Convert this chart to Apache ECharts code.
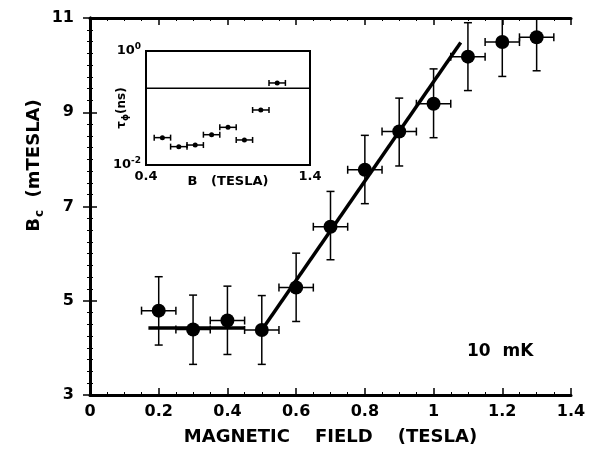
<!DOCTYPE html>
<html>
<head>
<meta charset="UTF-8">
<title>Bc vs magnetic field</title>
<script src="https://cdn.jsdelivr.net/npm/echarts@6/dist/echarts.min.js"></script>
<style>
  html, body { margin: 0; padding: 0; background: #fff; }
  #chart { width: 589px; height: 464px; }
</style>
</head>
<body>
<div id="chart"></div>
<script>
// main data: Bc (mT) vs field (T), with error bars
var fieldB   = [0.2, 0.3, 0.4, 0.5, 0.6, 0.7, 0.8, 0.9, 1.0, 1.1, 1.2, 1.3];
var fieldErr = [0.05, 0.05, 0.05, 0.05, 0.05, 0.05, 0.05, 0.05, 0.05, 0.05, 0.05, 0.05];
var bcVal    = [4.79, 4.39, 4.58, 4.38, 5.28, 6.57, 7.78, 8.59, 9.18, 10.18, 10.49, 10.59];
var bcLow    = [4.06, 3.65, 3.86, 3.65, 4.56, 5.87, 7.06, 7.86, 8.46, 9.46, 9.76, 9.88];
var bcHigh   = [5.51, 5.12, 5.31, 5.11, 6.01, 7.32, 8.51, 9.30, 9.92, 10.9, 11.2, 11.3];

// fitted lines
var flatFitB  = [0.17, 0.45];
var flatFitBc = [4.42, 4.42];
var slopeFitB  = [0.5, 1.079];
var slopeFitBc = [4.38, 10.48];

// inset: tau_phi (ns) vs B
var insetB    = [0.5, 0.6, 0.7, 0.8, 0.9, 1.0, 1.1, 1.2];
var insetBErr = [0.05, 0.05, 0.05, 0.05, 0.05, 0.05, 0.05, 0.05];
var insetTau  = [0.0302, 0.0210, 0.0224, 0.0340, 0.0458, 0.0275, 0.0923, 0.275];
var insetLineB   = [0.4, 1.4];
var insetLineTau = [0.221, 0.221];

var FONT = '"DejaVu Sans", Verdana, sans-serif';

function zip(a, b) {
    return a.map(function (v, i) { return [v, b[i]]; });
}

// draws x and y error bars with caps
function errorBars(api) {
    var x = api.value(0), y = api.value(1);
    var xl = api.value(2), xh = api.value(3);
    var yl = api.value(4), yh = api.value(5);
    var cap = api.value(6);
    var c = api.coord([x, y]);
    var pl = api.coord([xl, y]), ph = api.coord([xh, y]);
    var children = [];
    var st = { stroke: '#000', lineWidth: 1.5 };
    children.push({ type: 'line', shape: { x1: pl[0], y1: c[1], x2: ph[0], y2: c[1] }, style: st });
    children.push({ type: 'line', shape: { x1: pl[0], y1: c[1] - cap, x2: pl[0], y2: c[1] + cap }, style: st });
    children.push({ type: 'line', shape: { x1: ph[0], y1: c[1] - cap, x2: ph[0], y2: c[1] + cap }, style: st });
    if (yl !== null && yl !== undefined && !isNaN(yl)) {
        var vl = api.coord([x, yl]), vh = api.coord([x, yh]);
        children.push({ type: 'line', shape: { x1: c[0], y1: vl[1], x2: c[0], y2: vh[1] }, style: st });
        children.push({ type: 'line', shape: { x1: c[0] - cap, y1: vl[1], x2: c[0] + cap, y2: vl[1] }, style: st });
        children.push({ type: 'line', shape: { x1: c[0] - cap, y1: vh[1], x2: c[0] + cap, y2: vh[1] }, style: st });
    }
    return { type: 'group', children: children };
}

var mainErrData = fieldB.map(function (b, i) {
    return [b, bcVal[i], b - fieldErr[i], b + fieldErr[i], bcLow[i], bcHigh[i], 4];
});
var insetErrData = insetB.map(function (b, i) {
    return [b, insetTau[i], b - insetBErr[i], b + insetBErr[i], NaN, NaN, 3];
});

var tickLabel = { color: '#000', fontFamily: FONT, fontWeight: 'bold', fontSize: 16 };

var chart = echarts.init(document.getElementById('chart'));
chart.setOption({
    animation: false,
    backgroundColor: '#fff',
    grid: [
        { left: 90, top: 18, right: 18, bottom: 69 },
        { left: 146, top: 51, width: 164, height: 114, show: true, borderColor: '#000', borderWidth: 2, backgroundColor: '#fff', z: 5 }
    ],
    xAxis: [
        {
            gridIndex: 0, type: 'value', min: 0, max: 1.4, interval: 0.2,
            axisLine: { lineStyle: { color: '#000', width: 3 } },
            axisTick: { inside: true, length: 7, lineStyle: { color: '#000', width: 1.5 } },
            minorTick: { show: true, splitNumber: 4, length: 3, lineStyle: { color: '#000', width: 1 } },
            splitLine: { show: false },
            axisLabel: Object.assign({ margin: 9, formatter: function (v) { return String(+v.toFixed(1)); } }, tickLabel),
            name: 'MAGNETIC    FIELD    (TESLA)', nameLocation: 'middle', nameGap: 33, nameMoveOverlap: false,
            nameTextStyle: { color: '#000', fontFamily: FONT, fontWeight: 'bold', fontSize: 18 }
        },
        {
            gridIndex: 0, type: 'value', position: 'top', min: 0, max: 1.4, interval: 0.2,
            axisLine: { lineStyle: { color: '#000', width: 3 } },
            axisTick: { inside: true, length: 7, lineStyle: { color: '#000', width: 1.5 } },
            minorTick: { show: true, splitNumber: 4, length: 3, lineStyle: { color: '#000', width: 1 } },
            splitLine: { show: false }, axisLabel: { show: false }
        },
        {
            gridIndex: 1, type: 'value', min: 0.4, max: 1.4, interval: 0.1,
            axisLine: { lineStyle: { color: '#000', width: 2 } },
            axisTick: { inside: true, length: 4, lineStyle: { color: '#000', width: 1 } },
            splitLine: { show: false },
            axisLabel: {
                color: '#000', fontFamily: FONT, fontWeight: 'bold', fontSize: 13, margin: 5,
                formatter: function (v) {
                    if (Math.abs(v - 0.4) < 1e-6) return '0.4';
                    if (Math.abs(v - 1.4) < 1e-6) return '1.4';
                    return '';
                }
            },
            name: 'B   (TESLA)', nameLocation: 'middle', nameGap: 10, nameMoveOverlap: false,
            nameTextStyle: { color: '#000', fontFamily: FONT, fontWeight: 'bold', fontSize: 13 }
        },
        {
            gridIndex: 1, type: 'value', position: 'top', min: 0.4, max: 1.4, interval: 0.1,
            axisLine: { lineStyle: { color: '#000', width: 2 } },
            axisTick: { inside: true, length: 4, lineStyle: { color: '#000', width: 1 } },
            splitLine: { show: false }, axisLabel: { show: false }
        }
    ],
    yAxis: [
        {
            gridIndex: 0, type: 'value', min: 3, max: 11, interval: 2,
            axisLine: { lineStyle: { color: '#000', width: 3 } },
            axisTick: { inside: true, length: 7, lineStyle: { color: '#000', width: 1.5 } },
            minorTick: { show: true, splitNumber: 8, length: 3, lineStyle: { color: '#000', width: 1 } },
            splitLine: { show: false },
            axisLabel: Object.assign({ margin: 16 }, tickLabel),
            name: '{b|B}{s|c}{b|  (mTESLA)}', nameLocation: 'middle', nameGap: 44, nameRotate: 90, nameMoveOverlap: false,
            nameTextStyle: {
                color: '#000',
                padding: [0, 0, 0, 82],
                rich: {
                    b: { fontFamily: FONT, fontWeight: 'bold', fontSize: 18, color: '#000' },
                    s: { fontFamily: FONT, fontWeight: 'bold', fontSize: 12, color: '#000', verticalAlign: 'bottom', padding: [12, 0, 0, 1] }
                }
            }
        },
        {
            gridIndex: 0, type: 'value', position: 'right', min: 3, max: 11, interval: 2,
            axisLine: { lineStyle: { color: '#000', width: 3 } },
            axisTick: { inside: true, length: 7, lineStyle: { color: '#000', width: 1.5 } },
            minorTick: { show: true, splitNumber: 8, length: 3, lineStyle: { color: '#000', width: 1 } },
            splitLine: { show: false }, axisLabel: { show: false }
        },
        {
            gridIndex: 1, type: 'log', logBase: 10, min: 0.01, max: 1,
            axisLine: { lineStyle: { color: '#000', width: 2 } },
            axisTick: { inside: true, length: 4, lineStyle: { color: '#000', width: 1 } },
            splitLine: { show: false },
            axisLabel: {
                margin: 5,
                formatter: function (v) {
                    if (Math.abs(v - 1) < 1e-9) return '{b|10}{s|0}';
                    if (Math.abs(v - 0.01) < 1e-9) return '{b|10}{s|-2}';
                    return '';
                },
                rich: {
                    b: { fontFamily: FONT, fontWeight: 'bold', fontSize: 13, color: '#000' },
                    s: { fontFamily: FONT, fontWeight: 'bold', fontSize: 9, color: '#000', verticalAlign: 'top', padding: [0, 0, 8, 0] }
                }
            },
            name: '{b|τ}{s|ϕ}{b|(ns)}', nameLocation: 'middle', nameGap: 16, nameRotate: 90, nameMoveOverlap: false,
            nameTextStyle: {
                rich: {
                    b: { fontFamily: FONT, fontWeight: 'bold', fontSize: 12, color: '#000' },
                    s: { fontFamily: FONT, fontWeight: 'bold', fontSize: 9, color: '#000', padding: [8, 0, 0, 0] }
                }
            }
        }
    ],
    graphic: [{
        type: 'text', left: 467, top: 343,
        style: { text: '10  mK', fill: '#000', font: 'bold 17px ' + FONT }
    }],
    series: [
        {
            type: 'custom', xAxisIndex: 0, yAxisIndex: 0, clip: true,
            renderItem: function (params, api) { return errorBars(api); },
            data: mainErrData, z: 2
        },
        {
            type: 'line', xAxisIndex: 0, yAxisIndex: 0, symbol: 'none',
            lineStyle: { color: '#000', width: 3.5 }, data: zip(flatFitB, flatFitBc), z: 3
        },
        {
            type: 'line', xAxisIndex: 0, yAxisIndex: 0, symbol: 'none',
            lineStyle: { color: '#000', width: 3.5 }, data: zip(slopeFitB, slopeFitBc), z: 3
        },
        {
            type: 'scatter', xAxisIndex: 0, yAxisIndex: 0, symbol: 'circle', symbolSize: 14,
            itemStyle: { color: '#000', opacity: 1 }, data: zip(fieldB, bcVal), z: 4
        },
        {
            type: 'line', xAxisIndex: 2, yAxisIndex: 2, symbol: 'none',
            lineStyle: { color: '#000', width: 1.5 }, data: zip(insetLineB, insetLineTau), z: 6
        },
        {
            type: 'custom', xAxisIndex: 2, yAxisIndex: 2, clip: true,
            renderItem: function (params, api) { return errorBars(api); },
            data: insetErrData, z: 6
        },
        {
            type: 'scatter', xAxisIndex: 2, yAxisIndex: 2, symbol: 'circle', symbolSize: 5,
            itemStyle: { color: '#000', opacity: 1 }, data: zip(insetB, insetTau), z: 7
        }
    ]
});
</script>
</body>
</html>
